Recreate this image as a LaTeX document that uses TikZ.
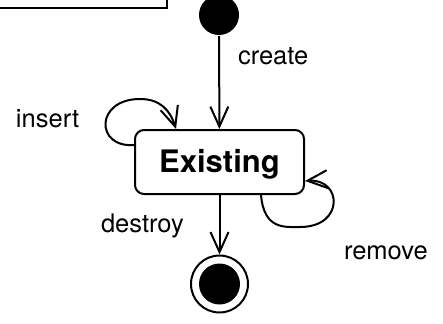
\documentclass[tikz,border=0pt]{standalone}
\usepackage{fontspec}
\setmainfont{TeX Gyre Heros}
\usetikzlibrary{arrows.meta,calc}
\begin{document}
\begin{tikzpicture}[x=1pt,y=-1pt,
  line width=2pt,
  tr/.style={-{Straight Barb[length=20pt,width=18pt,line width=2pt]}},
  lbl/.style={inner sep=0pt,anchor=base west,font=\fontsize{25.5}{30}\selectfont},
  statebox/.style={draw,rounded corners=9pt,minimum width=169pt,minimum height=64pt,inner sep=0pt,
    font=\fontsize{31}{36}\selectfont\bfseries,text height=22pt,text depth=2pt}]
\clip (0,0) rectangle (443,323);
\node[draw,minimum width=200pt,minimum height=40pt,inner sep=0pt] (partial) at (67,-12) {};
\node[circle,fill=black,minimum size=40pt,inner sep=0pt] (init) at (219,15) {};
\node[statebox] (ex) at (219.5,162) {Existing};
\node[circle,draw,minimum size=57pt,inner sep=0pt] (fin) at (219.5,284) {};
\node[circle,fill=black,minimum size=41pt,inner sep=0pt] (fincore) at (fin.center) {};
\coordinate (insA) at ($(ex.north west)+(0,16)$);
\coordinate (insB) at ($(ex.north west)+(42,0)$);
\coordinate (remA) at ($(ex.south west)+(127,0)$);
\coordinate (remB) at ($(ex.north east)+(0,52)$);
\draw[tr] (init) -- (ex);
\draw[tr] (ex) -- (fin);
\draw[tr] (insA) .. controls (95,148) and (95,99) .. (140,99) .. controls (160,99) and (170,110) .. (insB);
\draw[tr] (remA) .. controls (264,230) and (285,227) .. (300,227) .. controls (345,227) and (342,178) .. (remB);
\node[lbl] (create) at (237,65) {create};
\node[lbl] (insert) at (15,128) {insert};
\node[lbl] (destroy) at (100,232) {destroy};
\node[lbl] (remove) at (343,259) {remove};
\end{tikzpicture}
\end{document}
